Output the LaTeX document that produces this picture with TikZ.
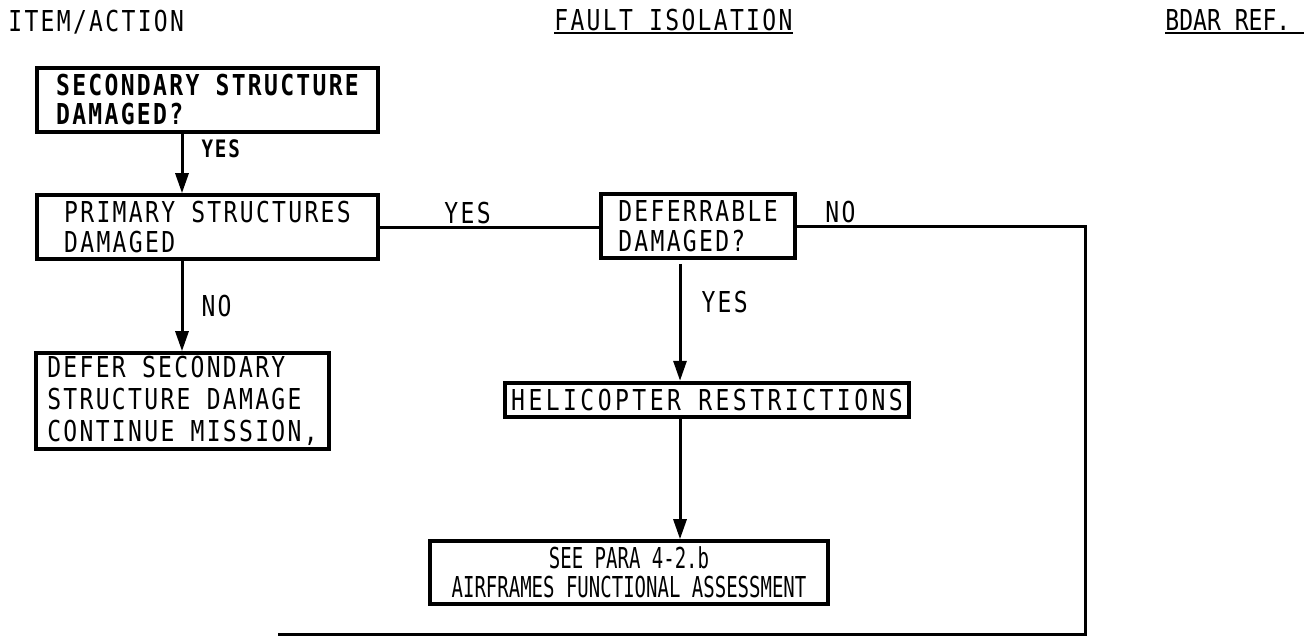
\documentclass[tikz,border=0pt]{standalone}
\usepackage{fontspec}
\usepackage{tikz}
\usetikzlibrary{arrows.meta,positioning}
\newfontfamily\chartfont[FakeStretch=0.8,LetterSpace=8]{DejaVu Sans Mono}
\newfontfamily\parafont[FakeStretch=0.66]{DejaVu Sans Mono}

\begin{document}
\begin{tikzpicture}[
  x=0.5pt,y=-0.5pt,
  every node/.style={font=\chartfont\fontsize{14.4}{15}\selectfont,inner sep=0pt},
  flow/.style={-{Triangle[length=10pt,width=6.5pt]},line width=1.5pt},
  link/.style={line width=1.5pt},
  box/.style={draw,line width=1.8pt,align=left,minimum height=32pt},
  hdr/.style={anchor=base west},
  ulin/.style={line width=1.4pt}
]
  \useasboundingbox (0,0) rectangle (1309,637);

  % column headings
  \node[hdr] (item) at (8,31) {ITEM/ACTION};
  \node[hdr] (fault) at (554,30) {FAULT ISOLATION};
  \node[hdr] (bdar) at (1165,30) {\addfontfeature{LetterSpace=0}BDAR REF.};
  \draw[ulin] ([yshift=-1.5pt]fault.base west) -- ([yshift=-1.5pt]fault.base east);
  \draw[ulin] ([yshift=-1.5pt]bdar.base west) -- ([xshift=6.5pt,yshift=-1.5pt]bdar.base east);

  % boxes
  \node[box,minimum width=170.5pt,
        font=\chartfont\bfseries\fontsize{14.4}{14.5}\selectfont] (sec) at (207.5,100)
    {SECONDARY STRUCTURE\\DAMAGED?};
  \node[box,minimum width=170.5pt] (prim) at (207.5,227)
    {PRIMARY STRUCTURES\\DAMAGED};
  \node[box,minimum width=97pt] (defb) at (698,226)
    {DEFERRABLE\\DAMAGED?};
  \node[box,minimum width=146.5pt,minimum height=48pt,
        font=\chartfont\fontsize{14.4}{16}\selectfont] (defer) at (182.5,401)
    {DEFER SECONDARY\\STRUCTURE DAMAGE\\CONTINUE MISSION,};
  \node[box,minimum width=202pt,minimum height=17pt,line width=2.2pt] (heli) at (707,400)
    {\addfontfeature{LetterSpace=12}HELICOPTER RESTRICTIONS};
  \node[box,align=center,minimum width=199pt,minimum height=31.5pt,
        font=\parafont\fontsize{14.4}{14.5}\selectfont] (para) at (629,572.5)
    {SEE PARA 4-2.b\\AIRFRAMES FUNCTIONAL ASSESSMENT};

  \coordinate (colA) at (182,0);
  \coordinate (colB) at (680,0);
  \coordinate (corner) at (1085,634);
  \coordinate (tail) at (278,634);

  % connectors
  \draw[flow] (colA |- sec.south) -- node[right=9pt,pos=0.25,
      font=\chartfont\bfseries\fontsize{12}{14}\selectfont] {YES} (colA |- prim.north);
  \draw[link] (prim.east) -- node[above=1pt,pos=0.4] {YES} (prim.east -| defb.west);
  \draw[link] (defb.east) -| node[pos=0.047,anchor=south west,yshift=1pt] {NO} (corner) -- (tail);
  \draw[flow] (colA |- prim.south) -- node[right=9pt] {NO} (colA |- defer.north);
  \draw[flow,shorten <=2pt] (colB |- defb.south) -- node[right=10pt,pos=0.35] {YES} (colB |- heli.north);
  \draw[flow] (colB |- heli.south) -- (colB |- para.north);
\end{tikzpicture}
\end{document}
